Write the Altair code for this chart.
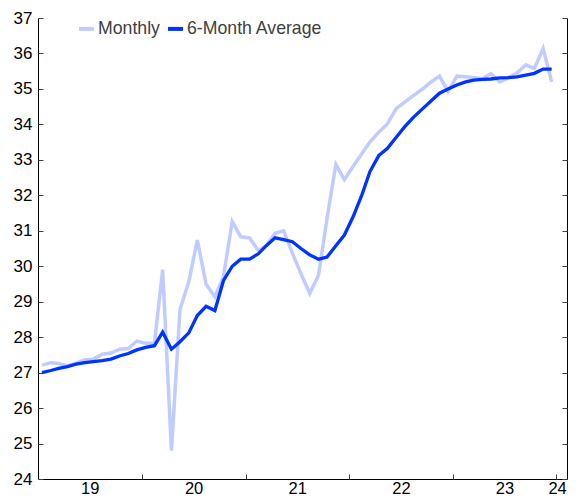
import altair as alt
import pandas as pd

# ---- data ----
start_month = "2019-01-01"
n_months = 60
series_names = ["Monthly", "6-Month Average"]
series_colors = ["#c0ccff", "#0033ff"]

monthly = [
    27.21, 27.28, 27.26, 27.19, 27.27, 27.36, 27.38, 27.52, 27.55, 27.66, 27.68, 27.89,
    27.83, 27.83, 29.90, 24.80, 28.78, 29.56, 30.74, 29.49, 29.14, 29.70, 31.26, 30.83,
    30.80, 30.44, 30.58, 30.93, 31.00, 30.36, 29.79, 29.23, 29.75, 31.35, 32.87, 32.44,
    32.82, 33.18, 33.50, 33.78, 34.01, 34.44, 34.63, 34.81, 34.99, 35.19, 35.36, 34.92,
    35.36, 35.34, 35.32, 35.29, 35.43, 35.20, 35.31, 35.45, 35.68, 35.58, 36.14, 35.20,
]
avg6 = [
    27.00, 27.06, 27.12, 27.17, 27.24, 27.28, 27.31, 27.34, 27.38, 27.47, 27.54, 27.64,
    27.71, 27.76, 28.14, 27.66, 27.87, 28.12, 28.61, 28.87, 28.75, 29.59, 30.00, 30.20,
    30.20, 30.35, 30.58, 30.80, 30.75, 30.69, 30.50, 30.32, 30.20, 30.26, 30.58, 30.88,
    31.40, 32.02, 32.67, 33.12, 33.32, 33.63, 33.93, 34.20, 34.43, 34.65, 34.88, 35.00,
    35.11, 35.20, 35.25, 35.27, 35.28, 35.31, 35.32, 35.34, 35.39, 35.44, 35.56, 35.56,
]
year_labels_at = [(2019, 7, 2), (2020, 7, 2), (2021, 7, 2), (2022, 7, 2), (2023, 7, 2), (2024, 1, 3)]
year_ticks_at = [2020, 2021, 2022, 2023, 2024]
y_ticks = list(range(24, 38))

dates = pd.date_range(start_month, periods=n_months, freq="MS") + pd.Timedelta(days=14)
df_m = pd.DataFrame({"date": dates, "value": monthly, "series": series_names[0]})
df_a = pd.DataFrame({"date": dates, "value": avg6, "series": series_names[1]})

FONT = "Liberation Sans"

xscale = alt.Scale(domain=[alt.DateTime(year=2019, month=1, date=1),
                           alt.DateTime(year=2024, month=2, date=7)], nice=False)
yscale = alt.Scale(domain=[24, 37], nice=False, zero=False)

color = alt.Color(
    "series:N",
    scale=alt.Scale(domain=series_names, range=series_colors),
    legend=alt.Legend(
        orient="none", legendX=39, legendY=1, direction="horizontal", title=None,
        symbolType="stroke", symbolStrokeWidth=4, symbolSize=225,
        labelFont=FONT, labelFontSize=17.7, labelColor="#404040",
        columnPadding=0, labelOffset=2, padding=0,
    ),
)

# x axis: labels centred in each year, ticks at year boundaries (inward)
x_labels_axis = alt.Axis(
    orient="bottom", values=[alt.DateTime(year=y, month=m, date=d) for y, m, d in year_labels_at],
    format="%y", ticks=False, tickSize=0, domain=True, domainColor="#000000", domainWidth=1,
    grid=False, labelFont=FONT, labelFontSize=16.5, labelColor="#000000", labelPadding=1,
    labelFlush=False, labelOverlap=False, title=None,
)
x_ticks_axis = alt.Axis(
    orient="bottom", offset=-5, values=[alt.DateTime(year=y, month=1, date=1) for y in year_ticks_at],
    ticks=True, tickSize=5, tickColor="#444444", labels=False, domain=False, grid=False, title=None,
)
# y axes: labels on the left, inward ticks on left and right, line on right
y_left_labels = alt.Axis(
    orient="left", values=y_ticks, ticks=False, tickSize=0, domain=True, domainColor="#000000",
    grid=False, labelFont=FONT, labelFontSize=17, labelColor="#000000", labelPadding=6, title=None,
    labelFlush=False,
)
y_left_ticks = alt.Axis(
    orient="left", offset=-5, values=y_ticks, ticks=True, tickSize=5, tickColor="#444444",
    labels=False, domain=False, grid=False, title=None,
)
y_right_line = alt.Axis(
    orient="right", values=y_ticks, ticks=False, labels=False, domain=True,
    domainColor="#000000", grid=False, title=None,
)
y_right_ticks = alt.Axis(
    orient="right", offset=-5, values=y_ticks, ticks=True, tickSize=5, tickColor="#444444",
    labels=False, domain=False, grid=False, title=None,
)

line_m = alt.Chart(df_m).mark_line(strokeWidth=3.5).encode(
    x=alt.X("date:T", scale=xscale, axis=x_labels_axis),
    y=alt.Y("value:Q", scale=yscale, axis=y_left_labels),
    color=color,
)
line_a = alt.Chart(df_a).mark_line(strokeWidth=3.3).encode(
    x=alt.X("date:T", scale=xscale, axis=x_ticks_axis),
    y=alt.Y("value:Q", scale=yscale, axis=y_left_ticks),
    color=color,
)
helper1 = alt.Chart(df_a).mark_line(opacity=0).encode(
    x=alt.X("date:T", scale=xscale, axis=None),
    y=alt.Y("value:Q", scale=yscale, axis=y_right_line),
)
helper2 = alt.Chart(df_a).mark_line(opacity=0).encode(
    x=alt.X("date:T", scale=xscale, axis=None),
    y=alt.Y("value:Q", scale=yscale, axis=y_right_ticks),
)

chart = (
    alt.layer(line_m, line_a, helper1, helper2)
    .resolve_axis(x="independent", y="independent")
    .properties(
        width=529, height=461,
        autosize=alt.AutoSizeParams(type="none"),
        padding={"left": 30, "top": 10, "right": 1, "bottom": 17},
        background="#ffffff",
    )
    .configure_view(stroke=None)
)

chart.save("out.html", embed_options={"renderer": "svg", "actions": False})
